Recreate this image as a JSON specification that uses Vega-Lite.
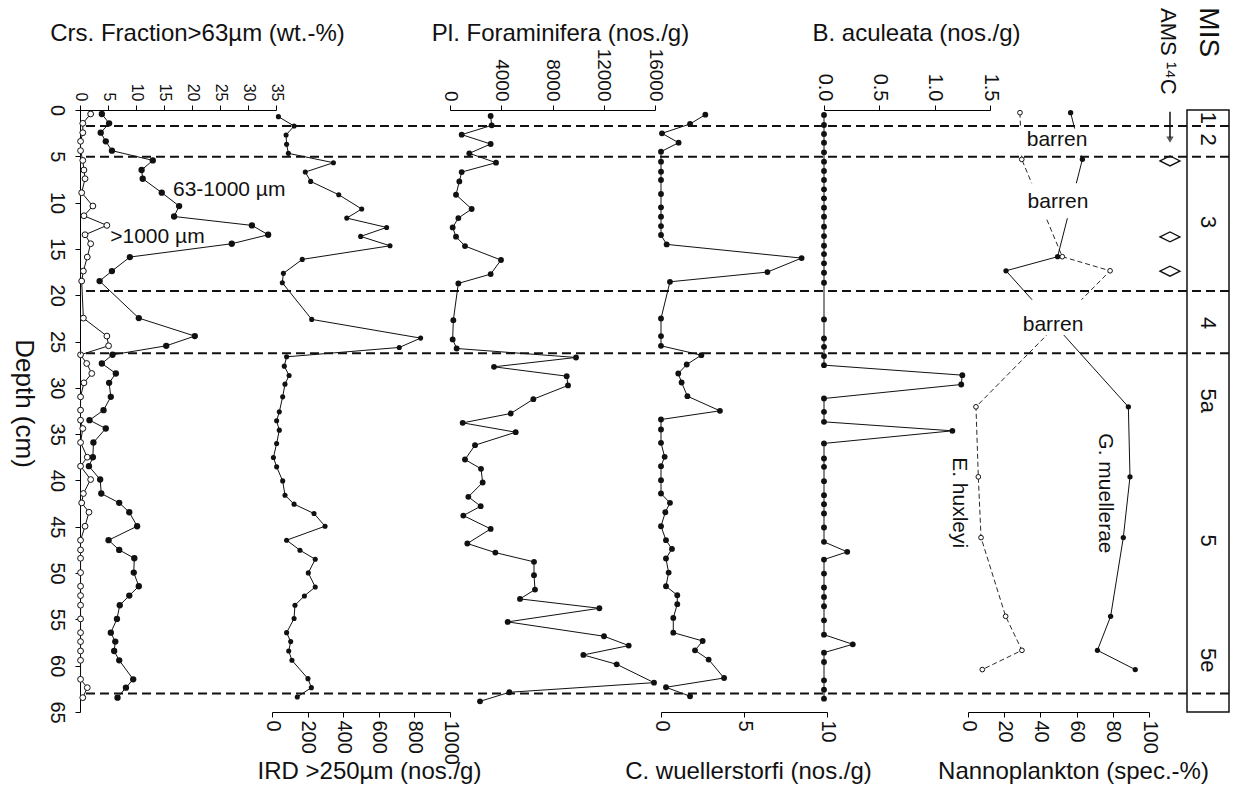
{
  "$schema": "https://vega.github.io/schema/vega-lite/v6.json",
  "autosize": {"type": "none"},
  "padding": {"left": 80, "top": 110, "right": 4, "bottom": 83},
  "width": 1149,
  "height": 602,
  "background": "white",
  "config": {
    "view": {"stroke": null},
    "font": "Liberation Sans",
    "axis": {"grid": false, "domainColor": "#000", "tickColor": "#000", "labelColor": "#111", "titleColor": "#111", "labelFont": "Liberation Sans", "titleFont": "Liberation Sans", "titleFontWeight": "normal", "tickSize": 5, "domainWidth": 1, "tickWidth": 1, "labelFlush": false, "labelOverlap": false, "labelBound": false}
  },
  "datasets": {
    "crsF": [{"d":0.43,"v":3.9},{"d":1.44,"v":5.2},{"d":2.45,"v":3.7},{"d":3.38,"v":4.6},{"d":4.39,"v":5.7},{"d":5.44,"v":13.0},{"d":6.48,"v":11.0},{"d":7.42,"v":11.2},{"d":8.93,"v":14.6},{"d":10.37,"v":17.7},{"d":11.5,"v":16.8},{"d":12.46,"v":30.7},{"d":13.47,"v":33.6},{"d":14.44,"v":27.1},{"d":15.88,"v":8.9},{"d":17.39,"v":5.7},{"d":18.47,"v":3.5},{"d":22.47,"v":10.5},{"d":24.41,"v":20.5},{"d":25.46,"v":15.4},{"d":26.43,"v":5.8},{"d":27.37,"v":3.9},{"d":28.45,"v":6.4},{"d":29.46,"v":5.2},{"d":30.97,"v":5.5},{"d":32.41,"v":4.2},{"d":33.49,"v":1.7},{"d":34.39,"v":4.6},{"d":35.9,"v":2.4},{"d":37.49,"v":2.3},{"d":38.46,"v":1.6},{"d":39.9,"v":3.6},{"d":41.41,"v":3.8},{"d":42.42,"v":7.0},{"d":43.43,"v":8.8},{"d":44.94,"v":10.2},{"d":46.45,"v":5.1},{"d":47.5,"v":7.0},{"d":48.4,"v":9.7},{"d":49.95,"v":9.6},{"d":51.42,"v":10.5},{"d":52.43,"v":8.8},{"d":53.47,"v":7.1},{"d":54.95,"v":6.6},{"d":56.43,"v":5.5},{"d":57.4,"v":6.3},{"d":58.41,"v":6.1},{"d":59.42,"v":7.0},{"d":61.47,"v":9.5},{"d":62.37,"v":8.2},{"d":63.45,"v":6.7}],
    "crsC": [{"d":0.43,"v":1.9},{"d":1.44,"v":0.5},{"d":2.45,"v":0.5},{"d":3.38,"v":0.1},{"d":4.39,"v":0.1},{"d":5.44,"v":0.5},{"d":6.48,"v":0.7},{"d":7.42,"v":0.9},{"d":8.93,"v":0.3},{"d":10.37,"v":2.3},{"d":11.42,"v":0.7},{"d":12.46,"v":4.8},{"d":13.47,"v":0.9},{"d":14.44,"v":1.9},{"d":15.88,"v":1.3},{"d":17.39,"v":0.6},{"d":18.47,"v":0.3},{"d":22.47,"v":0.6},{"d":24.41,"v":4.8},{"d":25.46,"v":5.1},{"d":26.43,"v":0.1},{"d":27.37,"v":1.2},{"d":28.45,"v":2.1},{"d":29.46,"v":0.7},{"d":30.97,"v":0.1},{"d":32.41,"v":0.1},{"d":33.49,"v":0.1},{"d":34.39,"v":0.5},{"d":35.9,"v":0.1},{"d":37.49,"v":1.3},{"d":38.46,"v":0.1},{"d":39.9,"v":1.9},{"d":41.41,"v":0.6},{"d":42.42,"v":0.3},{"d":43.43,"v":1.6},{"d":44.94,"v":0.9},{"d":46.45,"v":0.1},{"d":47.5,"v":0.1},{"d":48.4,"v":0.1},{"d":49.95,"v":0.1},{"d":51.42,"v":0.1},{"d":52.43,"v":0.1},{"d":53.47,"v":0.1},{"d":54.95,"v":0.1},{"d":56.43,"v":0.1},{"d":57.4,"v":0.1},{"d":58.41,"v":0.1},{"d":59.42,"v":0.1},{"d":61.47,"v":0.1},{"d":62.37,"v":1.3},{"d":63.45,"v":0.5}],
    "ird": [{"d":0.72,"v":36},{"d":1.73,"v":124},{"d":2.7,"v":79},{"d":3.71,"v":82},{"d":4.68,"v":92},{"d":5.69,"v":345},{"d":6.7,"v":187},{"d":7.71,"v":217},{"d":9.15,"v":375},{"d":10.69,"v":504},{"d":11.67,"v":420},{"d":12.68,"v":644},{"d":13.65,"v":498},{"d":14.66,"v":663},{"d":16.13,"v":170},{"d":17.64,"v":64},{"d":18.65,"v":58},{"d":22.61,"v":223},{"d":24.63,"v":835},{"d":25.64,"v":715},{"d":26.65,"v":82},{"d":27.66,"v":69},{"d":28.66,"v":96},{"d":29.6,"v":73},{"d":30.97,"v":60},{"d":32.59,"v":41},{"d":33.56,"v":26},{"d":34.57,"v":41},{"d":36.01,"v":26},{"d":37.52,"v":8},{"d":38.53,"v":26},{"d":40.05,"v":60},{"d":41.59,"v":73},{"d":42.56,"v":124},{"d":43.57,"v":236},{"d":44.94,"v":298},{"d":46.45,"v":82},{"d":47.53,"v":157},{"d":48.51,"v":243},{"d":49.98,"v":204},{"d":51.5,"v":243},{"d":52.47,"v":182},{"d":53.47,"v":129},{"d":54.91,"v":124},{"d":56.43,"v":82},{"d":57.4,"v":105},{"d":58.41,"v":94},{"d":59.42,"v":112},{"d":61.4,"v":202},{"d":62.37,"v":221},{"d":63.38,"v":142}],
    "foram": [{"d":0.65,"v":3174},{"d":1.66,"v":3252},{"d":2.66,"v":911},{"d":3.67,"v":3174},{"d":4.68,"v":1509},{"d":5.69,"v":3591},{"d":6.7,"v":911},{"d":7.71,"v":729},{"d":9.15,"v":468},{"d":10.69,"v":1691},{"d":11.67,"v":651},{"d":12.68,"v":208},{"d":13.68,"v":468},{"d":14.69,"v":1171},{"d":16.2,"v":3981},{"d":17.72,"v":3174},{"d":18.72,"v":651},{"d":22.69,"v":260},{"d":24.77,"v":208},{"d":25.75,"v":520},{"d":26.72,"v":9836},{"d":27.73,"v":3435},{"d":28.74,"v":9107},{"d":29.74,"v":9211},{"d":31.22,"v":6505},{"d":32.77,"v":4736},{"d":33.78,"v":989},{"d":34.79,"v":5126},{"d":36.19,"v":1952},{"d":37.74,"v":1171},{"d":38.74,"v":2420},{"d":40.22,"v":2550},{"d":41.77,"v":1431},{"d":42.78,"v":2394},{"d":43.79,"v":1041},{"d":45.23,"v":3174},{"d":46.81,"v":1353},{"d":47.79,"v":3539},{"d":48.79,"v":6557},{"d":50.23,"v":6557},{"d":51.78,"v":6635},{"d":52.79,"v":5464},{"d":53.8,"v":11657},{"d":55.27,"v":4501},{"d":56.82,"v":12021},{"d":57.83,"v":13947},{"d":58.84,"v":10408},{"d":59.85,"v":13010},{"d":61.83,"v":15924},{"d":62.87,"v":4632},{"d":63.85,"v":2342}],
    "cw": [{"d":0.5,"v":2.67},{"d":1.51,"v":1.75},{"d":2.52,"v":0.06},{"d":3.53,"v":1.06},{"d":4.5,"v":0},{"d":5.58,"v":0},{"d":6.66,"v":0},{"d":7.56,"v":0},{"d":9.07,"v":0},{"d":10.51,"v":0},{"d":11.52,"v":0},{"d":12.53,"v":0},{"d":13.5,"v":0},{"d":14.51,"v":0.34},{"d":15.99,"v":8.47},{"d":17.5,"v":6.41},{"d":18.55,"v":0.54},{"d":22.51,"v":0},{"d":24.41,"v":0},{"d":25.46,"v":0},{"d":26.47,"v":2.43},{"d":27.48,"v":1.55},{"d":28.45,"v":1.04},{"d":29.42,"v":1.24},{"d":30.9,"v":1.59},{"d":32.48,"v":3.55},{"d":33.42,"v":0},{"d":34.5,"v":0},{"d":35.94,"v":0},{"d":37.45,"v":0.22},{"d":38.46,"v":0},{"d":39.97,"v":0},{"d":41.41,"v":0},{"d":42.42,"v":0.54},{"d":43.43,"v":0.26},{"d":44.94,"v":0},{"d":46.45,"v":0.3},{"d":47.39,"v":0.66},{"d":48.43,"v":0.3},{"d":49.95,"v":0.46},{"d":51.42,"v":0.3},{"d":52.39,"v":0.98},{"d":53.36,"v":0.98},{"d":54.84,"v":0.74},{"d":56.43,"v":0.74},{"d":57.33,"v":2.51},{"d":58.34,"v":2.05},{"d":59.34,"v":2.87},{"d":61.33,"v":3.8},{"d":62.33,"v":0.3},{"d":63.3,"v":1.75}],
    "ba": [{"d":0.54,"v":0},{"d":1.62,"v":0},{"d":2.59,"v":0},{"d":3.53,"v":0},{"d":4.57,"v":0},{"d":5.58,"v":0},{"d":6.59,"v":0},{"d":7.56,"v":0},{"d":8.57,"v":0},{"d":9.54,"v":0},{"d":10.55,"v":0},{"d":11.52,"v":0},{"d":12.6,"v":0},{"d":13.61,"v":0},{"d":14.66,"v":0},{"d":15.56,"v":0},{"d":16.56,"v":0},{"d":17.57,"v":0},{"d":18.65,"v":0},{"d":22.61,"v":0},{"d":24.67,"v":0},{"d":25.57,"v":0},{"d":26.57,"v":0},{"d":27.55,"v":0},{"d":28.63,"v":1.25},{"d":29.64,"v":1.24},{"d":31.15,"v":0},{"d":32.59,"v":0},{"d":33.67,"v":0},{"d":34.64,"v":1.16},{"d":36.0,"v":0},{"d":37.63,"v":0},{"d":38.53,"v":0},{"d":40.08,"v":0},{"d":41.59,"v":0},{"d":42.56,"v":0},{"d":43.57,"v":0},{"d":45.08,"v":0},{"d":46.63,"v":0},{"d":47.71,"v":0.21},{"d":48.54,"v":0},{"d":50.05,"v":0},{"d":51.56,"v":0},{"d":52.57,"v":0},{"d":53.58,"v":0},{"d":55.1,"v":0},{"d":56.65,"v":0},{"d":57.69,"v":0.26},{"d":58.59,"v":0},{"d":59.6,"v":0},{"d":61.58,"v":0},{"d":62.59,"v":0},{"d":63.56,"v":0}],
    "gm": [{"d":0.29,"v":56.7},{"d":5.33,"v":63.2},{"d":15.84,"v":49.5},{"d":17.36,"v":21.0},{"d":32.05,"v":88.6},{"d":39.61,"v":89.5},{"d":46.17,"v":85.8},{"d":54.67,"v":78.8},{"d":58.34,"v":71.5},{"d":60.42,"v":92.4}],
    "eh": [{"d":0.29,"v":28.7},{"d":5.33,"v":29.7},{"d":15.84,"v":52.1},{"d":17.36,"v":78.5},{"d":32.05,"v":4.4},{"d":39.61,"v":5.7},{"d":46.17,"v":7.2},{"d":54.67,"v":20.8},{"d":58.34,"v":29.8},{"d":60.42,"v":7.9}],
    "gaps": [{"a":27,"b":70,"d1":2.0,"d2":4.9},{"a":30,"b":68,"d1":7.9,"d2":11.7},{"a":28,"b":68,"d1":20.5,"d2":24.3}],
    "barren": [{"t":"barren","v":49.2,"d":3.25},{"t":"barren","v":49.7,"d":9.9},{"t":"barren","v":47,"d":23.2}],
    "species": [{"t":"G. muellerae","v":75.7,"d":41.4},{"t":"E. huxleyi","v":-5.2,"d":42.4}],
    "crsLab": [{"t":"63-1000 µm","v":16.6,"d":8.6},{"t":">1000  µm","v":5.4,"d":13.7}],
    "mis": [{"t":"1","d":0.85},{"t":"2","d":3.2},{"t":"3","d":12.1},{"t":"4","d":23.0},{"t":"5a","d":31.4},{"t":"5","d":46.5},{"t":"5e","d":59.4}],
    "ams": [{"d":5.5},{"d":13.7},{"d":17.4}],
    "bounds": [{"d":1.73},{"d":5.04},{"d":19.55},{"d":26.27},{"d":63.0}],
    "depthAxis": [{"d":0},{"d":65}]
  },
  "resolve": {"scale": {"x": "independent"}},
  "layer": [
    {
      "data": {"name": "depthAxis"},
      "mark": {"type": "rule", "color": "#000", "strokeWidth": 1, "opacity": 0},
      "encoding": {
        "y": {"field": "d", "type": "quantitative", "scale": {"domain": [0, 65], "reverse": true, "nice": false, "zero": false}, "axis": {"orient": "left", "values": [0,5,10,15,20,25,30,35,40,45,50,55,60,65], "labelAngle": 90, "labelAlign": "center", "labelBaseline": "top", "labelPadding": 9, "labelFontSize": 20, "title": "Depth (cm)", "titleAngle": 90, "titleX": -57, "titleY": 293, "titleAlign": "center", "titleBaseline": "middle", "titleFontSize": 26}}
      }
    },
    {
      "data": {"name": "crsC"},
      "mark": {"type": "line", "color": "#111", "strokeWidth": 1, "point": {"filled": true, "fill": "white", "stroke": "#111", "strokeWidth": 1, "size": 34}},
      "encoding": {
        "x": {"field": "v", "type": "quantitative", "scale": {"domain": [0, 35], "range": [0, 196], "nice": false, "zero": false}, "axis": null},
        "y": {"field": "d", "type": "quantitative", "scale": {"domain": [0, 65], "reverse": true, "nice": false, "zero": false}},
        "order": {"field": "d", "type": "quantitative"}
      }
    },
    {
      "data": {"name": "crsF"},
      "mark": {"type": "line", "color": "#111", "strokeWidth": 1, "point": {"filled": true, "color": "#111", "size": 40}},
      "encoding": {
        "x": {"field": "v", "type": "quantitative", "scale": {"domain": [0, 35], "range": [0, 196], "nice": false, "zero": false}, "axis": {"orient": "top", "values": [0,5,10,15,20,25,30,35], "title": "Crs. Fraction>63µm (wt.-%)", "titleX": 117, "titleY": -77, "titleAngle": 0, "titleAlign": "center", "titleBaseline": "middle", "titleFontSize": 24, "labelAngle": 90, "labelAlign": "right", "labelBaseline": "middle", "labelFontSize": 16, "labelPadding": 4}},
        "y": {"field": "d", "type": "quantitative", "scale": {"domain": [0, 65], "reverse": true, "nice": false, "zero": false}},
        "order": {"field": "d", "type": "quantitative"}
      }
    },
    {
      "data": {"name": "crsLab"},
      "mark": {"type": "text", "align": "left", "baseline": "middle", "fontSize": 21, "color": "#111"},
      "encoding": {
        "x": {"field": "v", "type": "quantitative", "scale": {"domain": [0, 35], "range": [0, 196], "nice": false, "zero": false}, "axis": null},
        "y": {"field": "d", "type": "quantitative", "scale": {"domain": [0, 65], "reverse": true, "nice": false, "zero": false}},
        "text": {"field": "t"}
      }
    },
    {
      "data": {"name": "ird"},
      "mark": {"type": "line", "color": "#111", "strokeWidth": 1, "point": {"filled": true, "color": "#111", "size": 26}},
      "encoding": {
        "x": {"field": "v", "type": "quantitative", "scale": {"domain": [0, 1000], "range": [192, 370], "nice": false, "zero": false}, "axis": {"orient": "bottom", "values": [0,200,400,600,800,1000], "format": "d", "title": "IRD >250µm (nos./g)", "titleX": 289, "titleY": 59, "titleAngle": 0, "titleAlign": "center", "titleBaseline": "middle", "titleFontSize": 24, "labelAngle": 90, "labelAlign": "left", "labelBaseline": "middle", "labelFontSize": 20, "labelPadding": 3}},
        "y": {"field": "d", "type": "quantitative", "scale": {"domain": [0, 65], "reverse": true, "nice": false, "zero": false}},
        "order": {"field": "d", "type": "quantitative"}
      }
    },
    {
      "data": {"name": "foram"},
      "mark": {"type": "line", "color": "#111", "strokeWidth": 1, "point": {"filled": true, "color": "#111", "size": 34}},
      "encoding": {
        "x": {"field": "v", "type": "quantitative", "scale": {"domain": [0, 16000], "range": [370, 575], "nice": false, "zero": false}, "axis": {"orient": "top", "values": [0,4000,8000,12000,16000], "format": "d", "title": "Pl. Foraminifera (nos./g)", "titleX": 480, "titleY": -77, "titleAngle": 0, "titleAlign": "center", "titleBaseline": "middle", "titleFontSize": 24, "labelAngle": 90, "labelAlign": "right", "labelBaseline": "middle", "labelFontSize": 19, "labelPadding": 4}},
        "y": {"field": "d", "type": "quantitative", "scale": {"domain": [0, 65], "reverse": true, "nice": false, "zero": false}},
        "order": {"field": "d", "type": "quantitative"}
      }
    },
    {
      "data": {"name": "cw"},
      "mark": {"type": "line", "color": "#111", "strokeWidth": 1, "point": {"filled": true, "color": "#111", "size": 34}},
      "encoding": {
        "x": {"field": "v", "type": "quantitative", "scale": {"domain": [0, 10], "range": [581, 747], "nice": false, "zero": false}, "axis": {"orient": "bottom", "values": [0,5,10], "title": "C. wuellerstorfi (nos./g)", "titleX": 668, "titleY": 59, "titleAngle": 0, "titleAlign": "center", "titleBaseline": "middle", "titleFontSize": 24, "labelAngle": 90, "labelAlign": "left", "labelBaseline": "middle", "labelFontSize": 20, "labelPadding": 3}},
        "y": {"field": "d", "type": "quantitative", "scale": {"domain": [0, 65], "reverse": true, "nice": false, "zero": false}},
        "order": {"field": "d", "type": "quantitative"}
      }
    },
    {
      "data": {"name": "ba"},
      "mark": {"type": "line", "color": "#111", "strokeWidth": 1, "point": {"filled": true, "color": "#111", "size": 34}},
      "encoding": {
        "x": {"field": "v", "type": "quantitative", "scale": {"domain": [0, 1.5], "range": [744, 910], "nice": false, "zero": false}, "axis": {"orient": "top", "values": [0,0.5,1,1.5], "format": ".1f", "title": "B. aculeata (nos./g)", "titleX": 836, "titleY": -77, "titleAngle": 0, "titleAlign": "center", "titleBaseline": "middle", "titleFontSize": 24, "labelAngle": 90, "labelAlign": "right", "labelBaseline": "middle", "labelFontSize": 20, "labelPadding": 4}},
        "y": {"field": "d", "type": "quantitative", "scale": {"domain": [0, 65], "reverse": true, "nice": false, "zero": false}},
        "order": {"field": "d", "type": "quantitative"}
      }
    },
    {
      "data": {"name": "eh"},
      "mark": {"type": "line", "color": "#111", "strokeWidth": 0.9, "strokeDash": [5, 3], "point": {"filled": true, "fill": "white", "stroke": "#111", "strokeWidth": 1, "size": 22}},
      "encoding": {
        "x": {"field": "v", "type": "quantitative", "scale": {"domain": [0, 100], "range": [888, 1069], "nice": false, "zero": false}, "axis": null},
        "y": {"field": "d", "type": "quantitative", "scale": {"domain": [0, 65], "reverse": true, "nice": false, "zero": false}},
        "order": {"field": "d", "type": "quantitative"}
      }
    },
    {
      "data": {"name": "gm"},
      "mark": {"type": "line", "color": "#111", "strokeWidth": 1, "point": {"filled": true, "color": "#111", "size": 28}},
      "encoding": {
        "x": {"field": "v", "type": "quantitative", "scale": {"domain": [0, 100], "range": [888, 1069], "nice": false, "zero": false}, "axis": {"orient": "bottom", "values": [0,20,40,60,80,100], "title": "Nannoplankton (spec.-%)", "titleX": 993, "titleY": 59, "titleAngle": 0, "titleAlign": "center", "titleBaseline": "middle", "titleFontSize": 24, "labelAngle": 90, "labelAlign": "left", "labelBaseline": "middle", "labelFontSize": 20, "labelPadding": 3}},
        "y": {"field": "d", "type": "quantitative", "scale": {"domain": [0, 65], "reverse": true, "nice": false, "zero": false}},
        "order": {"field": "d", "type": "quantitative"}
      }
    },
    {
      "data": {"name": "gaps"},
      "mark": {"type": "rect", "fill": "white", "strokeWidth": 0},
      "encoding": {
        "x": {"field": "a", "type": "quantitative", "scale": {"domain": [0, 100], "range": [888, 1069], "nice": false, "zero": false}, "axis": null},
        "x2": {"field": "b"},
        "y": {"field": "d1", "type": "quantitative", "scale": {"domain": [0, 65], "reverse": true, "nice": false, "zero": false}},
        "y2": {"field": "d2"}
      }
    },
    {
      "data": {"name": "barren"},
      "mark": {"type": "text", "align": "center", "baseline": "middle", "fontSize": 21, "color": "#111"},
      "encoding": {
        "x": {"field": "v", "type": "quantitative", "scale": {"domain": [0, 100], "range": [888, 1069], "nice": false, "zero": false}, "axis": null},
        "y": {"field": "d", "type": "quantitative", "scale": {"domain": [0, 65], "reverse": true, "nice": false, "zero": false}},
        "text": {"field": "t"}
      }
    },
    {
      "data": {"name": "species"},
      "mark": {"type": "text", "align": "center", "baseline": "middle", "angle": 90, "fontSize": 21, "color": "#111"},
      "encoding": {
        "x": {"field": "v", "type": "quantitative", "scale": {"domain": [0, 100], "range": [888, 1069], "nice": false, "zero": false}, "axis": null},
        "y": {"field": "d", "type": "quantitative", "scale": {"domain": [0, 65], "reverse": true, "nice": false, "zero": false}},
        "text": {"field": "t"}
      }
    },
    {
      "data": {"values": [{"d1": 0, "d2": 65}]},
      "mark": {"type": "rect", "fill": "white", "fillOpacity": 0, "stroke": "#111", "strokeWidth": 1.5},
      "encoding": {
        "x": {"datum": 52.8, "type": "quantitative", "scale": {"domain": [0, 100], "range": [1060, 1149], "nice": false, "zero": false}, "axis": null},
        "x2": {"datum": 100},
        "y": {"field": "d1", "type": "quantitative", "scale": {"domain": [0, 65], "reverse": true, "nice": false, "zero": false}},
        "y2": {"field": "d2"}
      }
    },
    {
      "data": {"name": "mis"},
      "mark": {"type": "text", "align": "center", "baseline": "middle", "angle": 90, "fontSize": 22, "color": "#111"},
      "encoding": {
        "x": {"datum": 76.4, "type": "quantitative", "scale": {"domain": [0, 100], "range": [1060, 1149], "nice": false, "zero": false}, "axis": null},
        "y": {"field": "d", "type": "quantitative", "scale": {"domain": [0, 65], "reverse": true, "nice": false, "zero": false}},
        "text": {"field": "t"}
      }
    },
    {
      "data": {"values": [{"t": "MIS", "d": -8.4}]},
      "mark": {"type": "text", "align": "center", "baseline": "middle", "angle": 90, "fontSize": 28, "color": "#111"},
      "encoding": {
        "x": {"datum": 76.4, "type": "quantitative", "scale": {"domain": [0, 100], "range": [1060, 1149], "nice": false, "zero": false}, "axis": null},
        "y": {"field": "d", "type": "quantitative", "scale": {"domain": [0, 65], "reverse": true, "nice": false, "zero": false}},
        "text": {"field": "t"}
      }
    },
    {
      "data": {"values": [{"t": "AMS ¹⁴C", "d": -11.0}]},
      "mark": {"type": "text", "align": "left", "baseline": "middle", "angle": 90, "fontSize": 22, "color": "#111"},
      "encoding": {
        "x": {"datum": 31, "type": "quantitative", "scale": {"domain": [0, 100], "range": [1060, 1149], "nice": false, "zero": false}, "axis": null},
        "y": {"field": "d", "type": "quantitative", "scale": {"domain": [0, 65], "reverse": true, "nice": false, "zero": false}},
        "text": {"field": "t"}
      }
    },
    {
      "data": {"values": [{"d1": 0.2, "d2": 3.0}]},
      "mark": {"type": "rule", "color": "#111", "strokeWidth": 1.5},
      "encoding": {
        "x": {"datum": 33.7, "type": "quantitative", "scale": {"domain": [0, 100], "range": [1060, 1149], "nice": false, "zero": false}, "axis": null},
        "y": {"field": "d1", "type": "quantitative", "scale": {"domain": [0, 65], "reverse": true, "nice": false, "zero": false}},
        "y2": {"field": "d2"}
      }
    },
    {
      "data": {"values": [{"d": 3.2}]},
      "mark": {"type": "point", "shape": "triangle-down", "filled": true, "color": "#111", "size": 55},
      "encoding": {
        "x": {"datum": 33.7, "type": "quantitative", "scale": {"domain": [0, 100], "range": [1060, 1149], "nice": false, "zero": false}, "axis": null},
        "y": {"field": "d", "type": "quantitative", "scale": {"domain": [0, 65], "reverse": true, "nice": false, "zero": false}}
      }
    },
    {
      "data": {"name": "ams"},
      "mark": {"type": "point", "shape": "M-1,0L0,-0.5L1,0L0,0.5Z", "filled": false, "stroke": "#111", "strokeWidth": 1.3, "size": 400, "opacity": 1},
      "encoding": {
        "x": {"datum": 33.7, "type": "quantitative", "scale": {"domain": [0, 100], "range": [1060, 1149], "nice": false, "zero": false}, "axis": null},
        "y": {"field": "d", "type": "quantitative", "scale": {"domain": [0, 65], "reverse": true, "nice": false, "zero": false}}
      }
    },
    {
      "data": {"name": "bounds"},
      "mark": {"type": "rule", "color": "#111", "strokeWidth": 2, "strokeDash": [9, 5]},
      "encoding": {
        "y": {"field": "d", "type": "quantitative", "scale": {"domain": [0, 65], "reverse": true, "nice": false, "zero": false}}
      }
    }
  ]
}
